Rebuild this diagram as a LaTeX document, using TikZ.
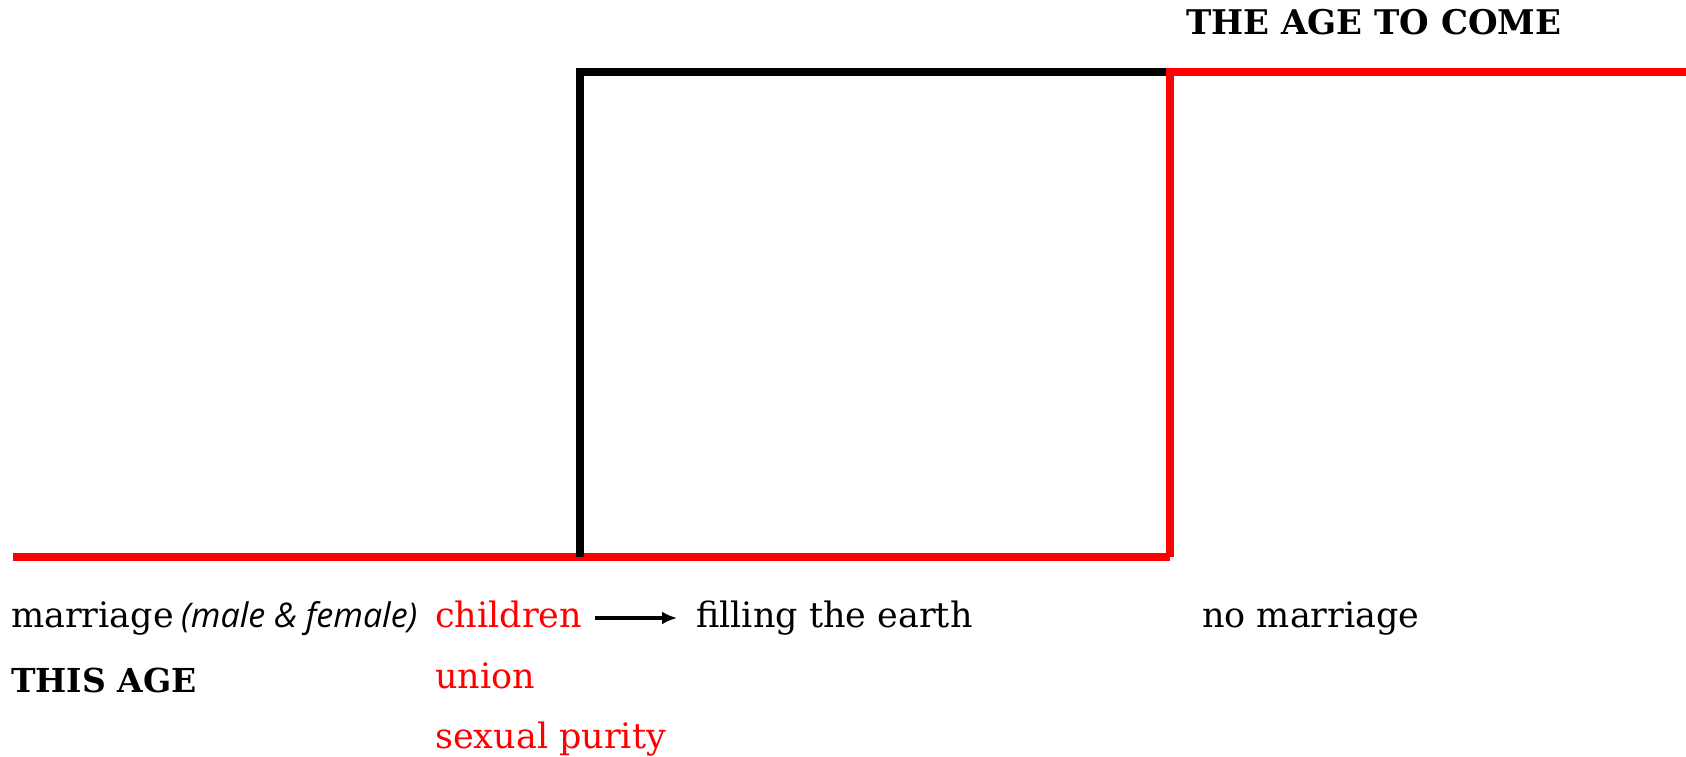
\documentclass[tikz,border=0pt]{standalone}
\usepackage{fontspec}
\setmainfont{DejaVu Serif}
\newfontfamily\notefont{Open Sans}
\usetikzlibrary{arrows.meta}

\begin{document}
\begin{tikzpicture}[
  x=1pt, y=-1pt,
  every node/.style={inner sep=0pt, anchor=base west, text height=25pt, text depth=7pt,
    font=\fontsize{35}{42}\selectfont},
  title/.style={font=\fontsize{34}{40}\selectfont\bfseries},
  good/.style={text=red},
  note/.style={font=\fontsize{34}{40}\selectfont\notefont\itshape},
  redline/.style={red, line width=8pt, line join=miter},
  blackline/.style={black, line width=8pt, line join=miter},
  arrow/.style={-{Latex[length=15pt, width=13pt]}, line width=3.5pt, shorten <=13pt, shorten >=19pt}
]
\useasboundingbox (0,0) rectangle (1686,757);

\coordinate (start) at (13,557);
\coordinate (rise) at (579.5,557);
\coordinate (top) at (579.5,72);
\coordinate (drop) at (1169.5,557);
\coordinate (edge) at (1169.5,72);
\coordinate (end) at (1686,72);

\draw[redline] (start) -- (drop);
\draw[blackline] (rise) -- (top) -- (edge);
\draw[redline] (drop) -- (edge) -- (end);

\node[title] (come) at (1186,35) {THE AGE TO COME};
\node (marriage) at (11,627) {marriage};
\node[note] (sexes) at (181,627) {(male \& female)};
\node[good] (children) at (435,627) {children};
\node (filling) at (696,627) {filling the earth};
\node (nomarriage) at (1202,627) {no marriage};
\node[title, font=\fontsize{33}{40}\selectfont\bfseries] (thisage) at (11,692) {THIS AGE};
\node[good] (union) at (435,688) {union};
\node[good] (purity) at (435,748) {sexual purity};

\draw[arrow] (children) -- (filling);
\end{tikzpicture}
\end{document}
